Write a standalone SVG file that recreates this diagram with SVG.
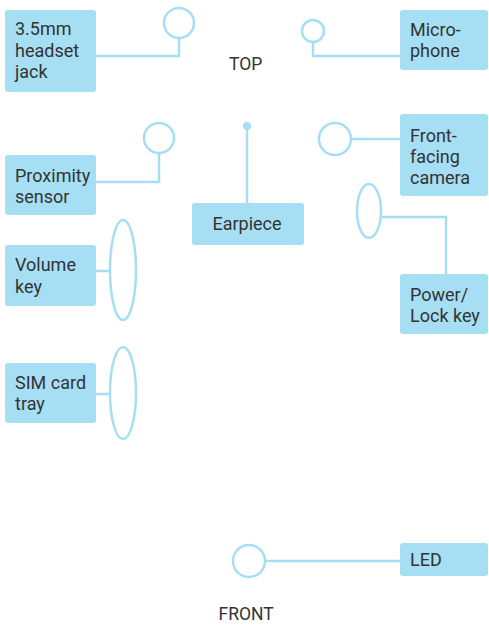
<svg xmlns="http://www.w3.org/2000/svg" width="489" height="625" viewBox="0 0 489 625">
<style>
.box{fill:#a6dff4;}
.t{font-family:Roboto,"Liberation Sans",sans-serif;font-size:18px;fill:#333333;}
.lbl{font-family:Roboto,"Liberation Sans",sans-serif;font-size:17.5px;fill:#333333;}
.ln{fill:none;stroke:#a6dff4;stroke-width:2.5;}
.sh{fill:#ffffff;stroke:#a6dff4;stroke-width:2.5;}
</style>
<rect width="489" height="625" fill="#ffffff"/>
<g id="connectors">
<polyline class="ln" points="96,56 179,56 179,38"/>
<polyline class="ln" points="400,56 313,56 313,42"/>
<polyline class="ln" points="96,182 159,182 159,153"/>
<line class="ln" x1="247" y1="126" x2="247" y2="203"/>
<line class="ln" x1="351" y1="139" x2="400" y2="139"/>
<polyline class="ln" points="381,217 446,217 446,274"/>
<line class="ln" x1="96" y1="271" x2="110" y2="271"/>
<line class="ln" x1="96" y1="394" x2="110" y2="394"/>
<line class="ln" x1="265" y1="561" x2="400" y2="561"/>
</g>
<g id="jack">
<rect class="box" x="5" y="10" width="91" height="82" rx="3"/>
<text class="t" x="15" y="35">3.5mm</text>
<text class="t" x="15" y="56.5">headset</text>
<text class="t" x="15" y="78">jack</text>
<circle class="sh" cx="179" cy="23" r="15"/>
</g>
<g id="top-label"><text class="lbl" x="229" y="70">TOP</text></g>
<g id="microphone">
<rect class="box" x="400" y="10" width="88" height="60" rx="3"/>
<text class="t" x="410" y="35.5">Micro-</text>
<text class="t" x="410" y="57">phone</text>
<circle class="sh" cx="313" cy="31" r="11"/>
</g>
<g id="proximity">
<rect class="box" x="5" y="155" width="91" height="60" rx="3"/>
<text class="t" x="15" y="181.5">Proximity</text>
<text class="t" x="15" y="203">sensor</text>
<circle class="sh" cx="159" cy="138" r="15"/>
</g>
<g id="earpiece">
<circle cx="247" cy="126" r="4" fill="#a6dff4"/>
<rect class="box" x="192" y="203" width="112" height="42" rx="3"/>
<text class="t" x="247" y="229.5" text-anchor="middle">Earpiece</text>
</g>
<g id="camera">
<rect class="box" x="400" y="114" width="88" height="82" rx="3"/>
<text class="t" x="410" y="141.5">Front-</text>
<text class="t" x="410" y="162.5">facing</text>
<text class="t" x="410" y="183.5">camera</text>
<circle class="sh" cx="335" cy="139" r="16"/>
</g>
<g id="power">
<ellipse class="sh" cx="369" cy="211" rx="12" ry="27"/>
<rect class="box" x="400" y="274" width="88" height="60" rx="3"/>
<text class="t" x="410" y="300.5">Power/</text>
<text class="t" x="410" y="322">Lock key</text>
</g>
<g id="volume">
<rect class="box" x="5" y="245" width="91" height="61" rx="3"/>
<text class="t" x="15" y="271">Volume</text>
<text class="t" x="15" y="292.5">key</text>
<ellipse class="sh" cx="123" cy="270" rx="13" ry="50"/>
</g>
<g id="sim">
<rect class="box" x="5" y="363" width="91" height="60" rx="3"/>
<text class="t" x="15" y="388.5">SIM card</text>
<text class="t" x="15" y="410">tray</text>
<ellipse class="sh" cx="123" cy="393" rx="13" ry="46"/>
</g>
<g id="led">
<circle class="sh" cx="249" cy="561" r="16"/>
<rect class="box" x="400" y="543" width="88" height="33" rx="3"/>
<text class="t" x="410" y="566">LED</text>
</g>
<g id="front-label"><text class="lbl" x="218.5" y="620">FRONT</text></g>
</svg>
